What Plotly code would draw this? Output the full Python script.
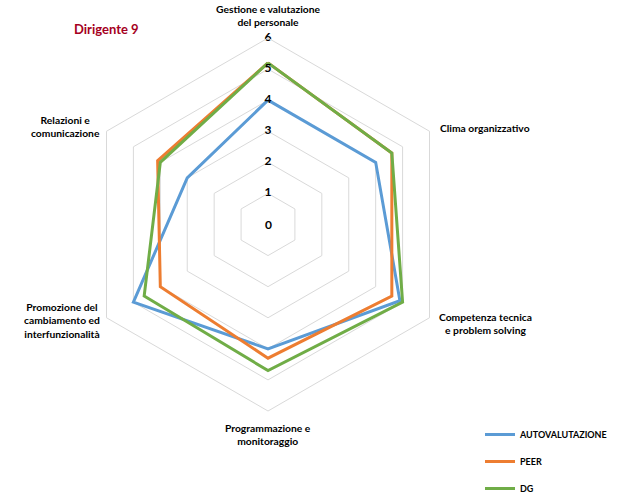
import plotly.graph_objects as go

categories = [
    "Gestione e valutazione<br>del personale",
    "Clima organizzativo",
    "Competenza tecnica<br>e problem solving",
    "Programmazione e<br>monitoraggio",
    "Promozione del<br>cambiamento ed<br>interfunzionalità",
    "Relazioni e<br>comunicazione",
]
series_names = ["AUTOVALUTAZIONE", "PEER", "DG"]
autovalutazione = [4.0, 4.0, 4.9, 4.0, 5.0, 3.0]
peer = [5.2, 4.6, 4.6, 4.3, 4.0, 4.1]
dg = [5.2, 4.6, 5.0, 4.7, 4.6, 4.0]
radial_ticks = [0, 1, 2, 3, 4, 5, 6]
title_text = "Dirigente 9"

colors = ["#5b9bd5", "#ed7d31", "#70ad47"]
W, H = 619, 499
FONT = "Lato"

fig = go.Figure()
for name, vals, col in zip(series_names, [autovalutazione, peer, dg], colors):
    fig.add_trace(go.Scatterpolar(
        r=vals + vals[:1], theta=categories + categories[:1], mode="lines",
        name=name, line=dict(color=col, width=3), legendgroup=name,
    ))

# radial tick labels along the first axis
fig.add_trace(go.Scatterpolar(
    r=radial_ticks[1:], theta=[categories[0]] * (len(radial_ticks) - 1), mode="text",
    text=[str(t) for t in radial_ticks[1:]], showlegend=False, hoverinfo="skip",
    cliponaxis=False,
    textfont=dict(family=FONT, size=12, color="#000000", weight="bold"),
))

cx, cy, R = 268, 224.5, 186.5
fig.update_layout(
    width=W, height=H, margin=dict(l=0, r=0, t=0, b=0, autoexpand=False),
    paper_bgcolor="white", plot_bgcolor="white",
    font=dict(family=FONT, color="#000000"),
    polar=dict(
        domain=dict(x=[(cx - R) / W, (cx + R) / W], y=[1 - (cy + R) / H, 1 - (cy - R) / H]),
        gridshape="linear", bgcolor="white",
        radialaxis=dict(range=[radial_ticks[0], radial_ticks[-1]], tickvals=radial_ticks[1:],
                        showticklabels=False, ticks="", showline=False,
                        gridcolor="#d9d9d9", gridwidth=1, angle=90),
        angularaxis=dict(rotation=90, direction="clockwise", showticklabels=False, ticks="",
                         showgrid=False, showline=True, linecolor="#d9d9d9", linewidth=1),
    ),
    legend=dict(x=480 / W, y=1 - 420 / H, xanchor="left", yanchor="top",
                font=dict(family=FONT, size=9, color="#000000", weight="bold"),
                tracegroupgap=8, bgcolor="rgba(0,0,0,0)"),
)

# centre tick label (value 0 sits at the pole)
fig.add_annotation(text=str(radial_ticks[0]), x=cx / W, y=1 - cy / H, xref="paper", yref="paper",
                   showarrow=False, xanchor="center", yanchor="middle",
                   font=dict(family=FONT, size=12, color="#000000", weight="bold"))

def pa(text, px, py, xanchor="center"):
    fig.add_annotation(text=text, x=px / W, y=1 - py / H, xref="paper", yref="paper",
                       showarrow=False, xanchor=xanchor, yanchor="middle", align="center",
                       font=dict(family=FONT, size=10.3, color="#000000", weight="bold"))

label_pos = [(268, 15, "center"), (438, 128, "left"), (485, 323, "center"),
             (268, 434.5, "center"), (62, 320, "center"), (65, 127, "center")]
for cat, (px, py, xa) in zip(categories, label_pos):
    pa(cat, px, py, xa)

fig.add_annotation(text=title_text, x=106 / W, y=1 - 29 / H, xref="paper", yref="paper",
                   showarrow=False, xanchor="center", yanchor="middle",
                   font=dict(family=FONT, size=13, color="#a50021", weight="bold"))

fig.write_html("out.html", post_script="document.body.style.margin='0';",
               config={"displayModeBar": False})
